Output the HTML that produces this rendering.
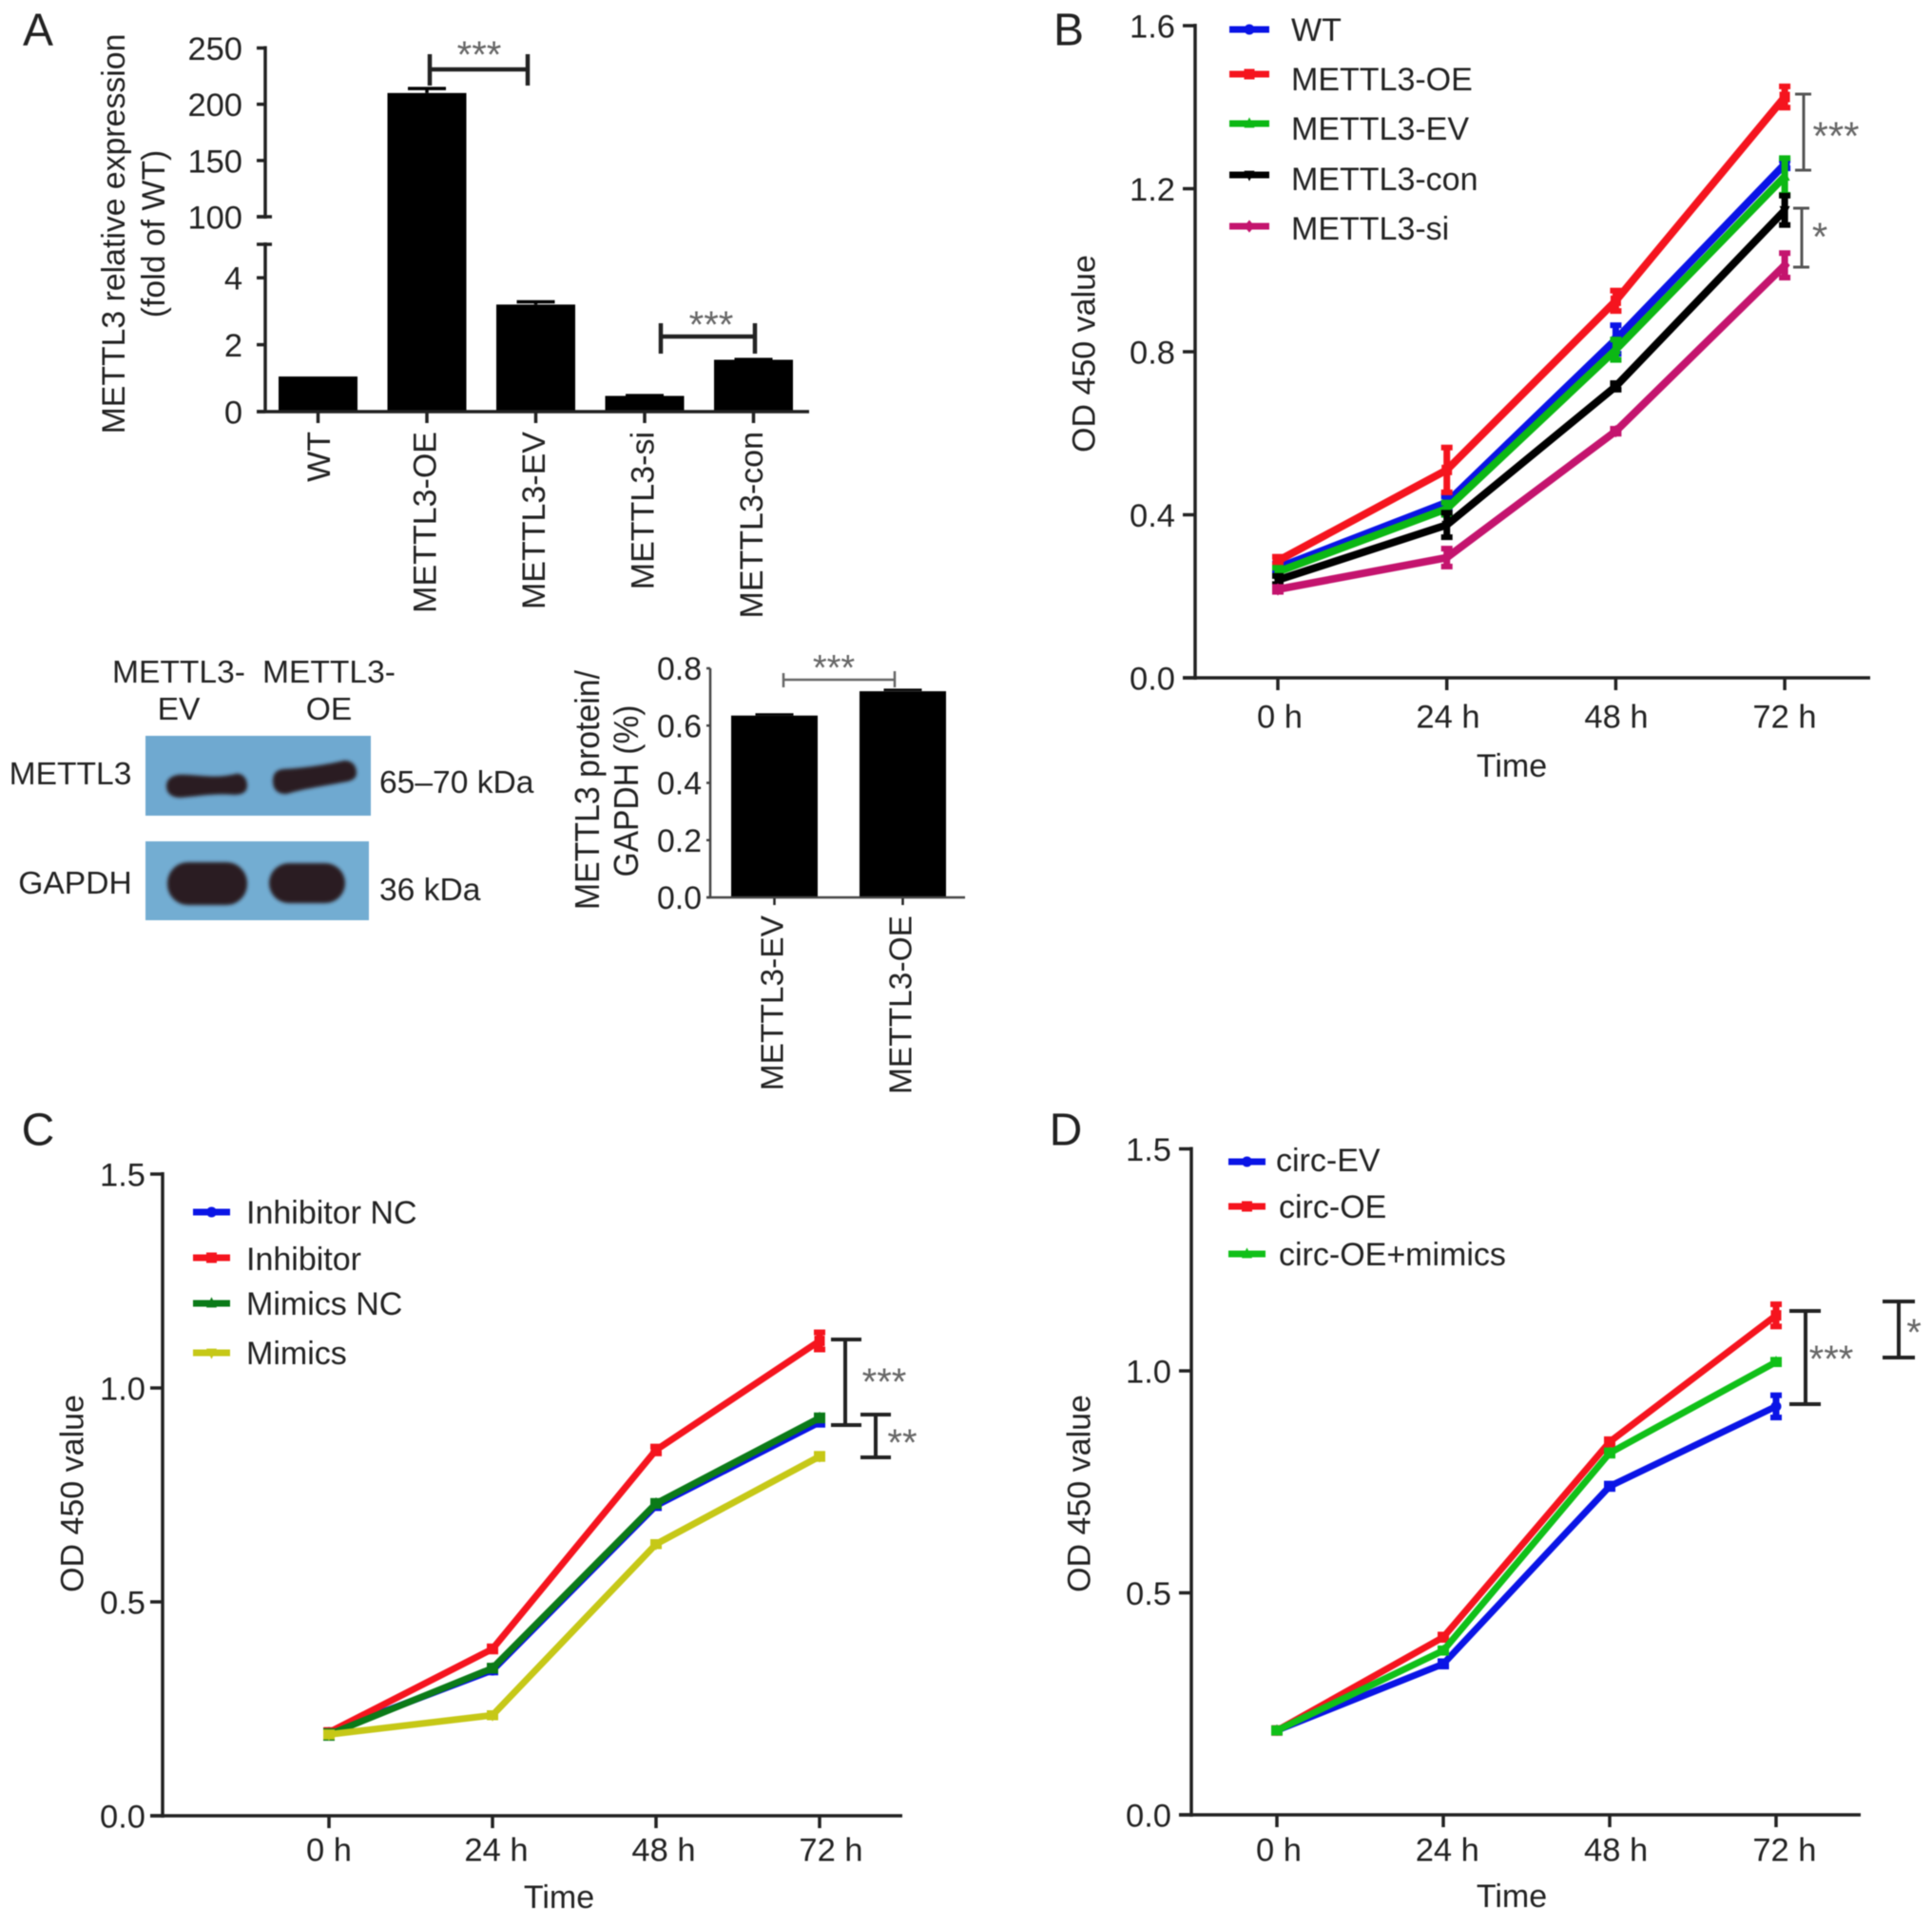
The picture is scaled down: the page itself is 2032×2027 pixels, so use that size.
<!DOCTYPE html>
<html lang="en">
<head>
<meta charset="utf-8">
<title>METTL3 expression and cell proliferation panels</title>
<style>
html,body{margin:0;padding:0;background:#fff;}
svg{display:block;filter:blur(0.6px);}
text{font-family:"Liberation Sans",Arial,sans-serif;fill:#222;}
</style>
</head>
<body>
<svg id="fig" xmlns="http://www.w3.org/2000/svg" width="2032" height="2027" viewBox="0 0 2032 2027">
<defs>
<filter id="soft" x="-20%" y="-30%" width="140%" height="160%"><feGaussianBlur stdDeviation="1.8"/></filter>
</defs>
<rect width="2032" height="2027" fill="#fff"/>
<g>
<rect x="153" y="774" width="237" height="84" fill="#6fa9d0"/>
<rect x="153" y="885" width="235" height="83" fill="#73add2"/>
<path d="M188 815 C205 814 225 820 248 814 C256 813 260 820 260 826 C260 834 254 836 246 836 C225 834 205 838 190 839 C180 839 175 834 175 827 C175 820 180 816 188 815 Z" fill="#2b1f22" filter="url(#soft)"/>
<path d="M298 809 C320 808 345 804 362 800 C371 800 375 806 375 813 C375 820 368 822 360 823 C340 827 318 830 302 835 C292 836 287 830 287 822 C287 814 290 810 298 809 Z" fill="#2b1f22" filter="url(#soft)"/>
<rect x="176" y="907" width="84" height="45" rx="22" fill="#2b1f22" filter="url(#soft)"/>
<rect x="283" y="908" width="80" height="42" rx="21" fill="#2b1f22" filter="url(#soft)"/>
</g>
<g id="layer"></g>
</svg>
<script>
/* Panel A: relative expression */
const aCategories = ['WT','METTL3-OE','METTL3-EV','METTL3-si','METTL3-con'];
const aValues = [1.05, 210, 3.2, 0.47, 1.55];
const aErrors = [0, 4, 0.08, 0.01, 0.01];
const aTicksLow = [0, 2, 4];
const aTicksHigh = [100, 150, 200, 250];

/* Panel A: protein ratio */
const pCategories = ['METTL3-EV','METTL3-OE'];
const pValues = [0.635, 0.72];
const pErrors = [0.004, 0.005];
const pTicks = [0, 0.2, 0.4, 0.6, 0.8];

/* Shared time axis */
const timeLabels = ['0 h','24 h','48 h','72 h'];

/* Panel B */
const bTicks = [0, 0.4, 0.8, 1.2, 1.6];
const bWT = [0.27, 0.43, 0.83, 1.26];
const bWTerr = [0.01, 0.015, 0.035, 0.01];
const bOE = [0.287, 0.51, 0.925, 1.425];
const bOEerr = [0.01, 0.055, 0.025, 0.026];
const bEV = [0.26, 0.415, 0.805, 1.23];
const bEVerr = [0.01, 0.015, 0.025, 0.045];
const bCon = [0.24, 0.375, 0.715, 1.147];
const bConErr = [0.01, 0.03, 0.008, 0.036];
const bSi = [0.217, 0.295, 0.605, 1.012];
const bSiErr = [0.006, 0.022, 0.006, 0.03];

/* Panel C */
const cTicks = [0, 0.5, 1, 1.5];
const cInhNC = [0.195, 0.34, 0.725, 0.92];
const cInhNCerr = [0.005, 0.005, 0.006, 0.006];
const cInh = [0.195, 0.39, 0.855, 1.11];
const cInhErr = [0.005, 0.006, 0.008, 0.02];
const cMimNC = [0.19, 0.345, 0.73, 0.93];
const cMimNCerr = [0.008, 0.006, 0.006, 0.006];
const cMim = [0.19, 0.235, 0.635, 0.84];
const cMimErr = [0.005, 0.005, 0.005, 0.006];

/* Panel D */
const dTicks = [0, 0.5, 1, 1.5];
const dEV = [0.19, 0.34, 0.74, 0.92];
const dEVerr = [0.005, 0.006, 0.006, 0.025];
const dOE = [0.19, 0.4, 0.84, 1.125];
const dOEerr = [0.005, 0.006, 0.006, 0.025];
const dMim = [0.19, 0.37, 0.815, 1.02];
const dMimErr = [0.005, 0.005, 0.006, 0.005];

const NS = 'http://www.w3.org/2000/svg';
const layer = document.getElementById('layer');
const INK = '#222';

function shape(tag, attrs, parent) {
  const el = document.createElementNS(NS, tag);
  for (const k in attrs) el.setAttribute(k, attrs[k]);
  (parent || layer).appendChild(el);
  return el;
}
function seg(x1, y1, x2, y2, width, color) {
  const el = shape('line', {x1, y1, x2, y2, stroke: color || INK, 'stroke-width': width});
  
  return el;
}
function label(str, x, y, size, anchor, fill) {
  const el = shape('text', {x, y: y + size * 0.36, 'font-size': size, 'text-anchor': anchor || 'middle'});
  if (fill) el.style.fill = fill;
  el.textContent = str;
  
  return el;
}
function vlabel(str, x, y, size, anchor, len) {
  const el = shape('text', {x: 0, y: size * 0.36, 'font-size': size, 'text-anchor': anchor || 'middle',
    transform: 'translate(' + x + ' ' + y + ') rotate(-90)'});
  if (len) { el.setAttribute('textLength', len); el.setAttribute('lengthAdjust', 'spacingAndGlyphs'); }
  el.textContent = str;
  
  return el;
}
function stars(str, cx, cy, size) {
  const el = shape('text', {x: cx, y: cy + size * 0.47, 'font-size': size, 'text-anchor': 'middle'});
  el.style.fill = '#666';
  el.textContent = str;
  
  
  return el;
}
function bracketV(x, y1, y2, capL, capR, width, color) {
  const s = seg(x, y1, x, y2, width, color);
  
  const a = seg(capL, y1, capR, y1, width, color);
  
  const b = seg(capL, y2, capR, y2, width, color);
  
}
function bracketH(x1, x2, y, t1, b1, t2, b2, width, color) {
  const s = seg(x1, y, x2, y, width, color);
  
  const a = seg(x1, t1, x1, b1, width, color);
  
  const b = seg(x2, t2, x2, b2, width, color);
  
}
function marker(kind, x, y, r, color) {
  let el;
  if (kind === 'circle') el = shape('circle', {cx: x, cy: y, r: r, fill: color});
  else if (kind === 'square') el = shape('rect', {x: x - r, y: y - r, width: 2 * r, height: 2 * r, fill: color});
  else if (kind === 'up') el = shape('polygon', {points: [x, y - r * 1.2, x + r, y + r * 0.8, x - r, y + r * 0.8].join(' '), fill: color});
  else if (kind === 'down') el = shape('polygon', {points: [x, y + r * 1.2, x + r, y - r * 0.8, x - r, y - r * 0.8].join(' '), fill: color});
  else el = shape('polygon', {points: [x, y - r * 1.2, x + r, y, x, y + r * 1.2, x - r, y].join(' '), fill: color});
  
  
  return el;
}

function lineChart(g, series) {
  const sy = v => g.y0 - v * g.pxPerUnit;
  const sx = i => g.x0 + i * g.dx;
  /* axes */
  const ya = seg(g.axisX, sy(g.ticks[g.ticks.length - 1]) - 2, g.axisX, g.y0 + 2, 3.5);
  
  const xa = seg(g.axisX - 13, g.y0, g.axisEnd, g.y0, 3.5);
  
  g.ticks.forEach(v => {
    const t = seg(g.axisX - 13, sy(v), g.axisX, sy(v), 3.5);
    
    const l = label(v.toFixed(1), g.axisX - g.tickGap, sy(v), 34.5, 'end');
    
  });
  timeLabels.forEach((s, i) => {
    const t = seg(sx(i), g.y0, sx(i), g.y0 + 13, 3.5);
    
    const l = label(s, g.labelX0 + i * g.labelDx, g.y0 + g.tickLabelDy, 34.5);
    
  });
  const tt = label('Time', g.timeX, g.y0 + g.timeDy, 34);
  
  const yt = vlabel('OD 450 value', g.yTitleX, g.yTitleY, 34);
  
  /* series */
  series.forEach(s => {
    const pl = shape('polyline', {points: s.values.map((v, i) => sx(i) + ',' + sy(v)).join(' '),
      fill: 'none', stroke: s.color, 'stroke-width': g.lineWidth, 'stroke-linejoin': 'round'});
    
    
    s.values.forEach((v, i) => {
      const e = s.errors[i];
      const b = seg(sx(i), sy(v + e), sx(i), sy(v - e), 7, s.color);
      
      const c1 = seg(sx(i) - 6, sy(v + e), sx(i) + 6, sy(v + e), 6, s.color);
      
      const c2 = seg(sx(i) - 6, sy(v - e), sx(i) + 6, sy(v - e), 6, s.color);
      
      marker(s.kind, sx(i), sy(v), 5.5, s.color);
    });
  });
  /* legend */
  series.forEach((s, i) => {
    const ly = g.legendLineY[i];
    const ln = seg(g.legendX1, ly, g.legendX2, ly, 7, s.color);
    
    marker(s.kind, (g.legendX1 + g.legendX2) / 2, ly, 5.5, s.color);
    const t = label(s.name, g.legendTextX[i], g.legendTextY[i], 34, 'start');
    
  });
}

/* ---------- Panel A main bar chart ---------- */
(function () {
  const y0 = 433, yBreakLow = 257, yHundred = 228, yTop = 50.5;
  const sy = v => v <= 5 ? y0 - v * (y0 - yBreakLow) / 5 : yHundred - (v - 100) * (yHundred - yTop) / 150;
  const sx = i => 334.5 + i * 114.5;
  aValues.forEach((v, i) => {
    const b = shape('rect', {x: sx(i) - 41.5, y: sy(v), width: 83, height: y0 - sy(v), fill: '#000'});
    
    
    if (aErrors[i] > 0) {
      const top = sy(v + aErrors[i]);
      const st = seg(sx(i), top, sx(i), sy(v), 3.5, '#000');
      
      const cp = seg(sx(i) - 20, top, sx(i) + 20, top, 3.5, '#000');
      
    }
    const t = seg(sx(i), y0, sx(i), y0 + 12, 3.5);
    
    const l = vlabel(aCategories[i], sx(i) - (i === 0 ? 0 : 3), 454, 34, 'end');
    
  });
  const hi = seg(279, yTop - 2, 279, yHundred + 2, 3.5);
  
  const lo = seg(279, yBreakLow - 2, 279, y0, 3.5);
  
  const xa = seg(270, y0, 851, y0, 3.5);
  
  const brk1 = seg(270, yHundred, 286, yHundred, 3.5);
  
  const brk2 = seg(270, yBreakLow, 286, yBreakLow, 3.5);
  
  aTicksHigh.concat(aTicksLow).forEach(v => {
    const t = seg(270, sy(v), 279, sy(v), 3.5);
    
    const l = label(String(v), 255, sy(v), 34.5, 'end');
    
  });
  bracketH(452, 555, 73, 57, 90, 57, 90, 4.5, INK);
  stars('***', 504, 52, 40);
  bracketH(695, 794, 354, 340, 372, 340, 372, 4.5, INK);
  stars('***', 748, 336, 40);
  const t1 = vlabel('METTL3 relative expression', 119, 246, 33.8);
  
  const t2 = vlabel('(fold of WT)', 161, 246, 33.8);
  
})();

/* ---------- Panel A protein bar chart ---------- */
(function () {
  const y0 = 944, top = 703;
  const sy = v => y0 - v * (y0 - top) / 0.8;
  const sx = i => 814.5 + i * 135;
  pValues.forEach((v, i) => {
    const b = shape('rect', {x: sx(i) - 45.5, y: sy(v), width: 91, height: y0 - sy(v), fill: '#000'});
    
    
    const cp = seg(sx(i) - 20, sy(v + pErrors[i]), sx(i) + 20, sy(v + pErrors[i]), 2.5, '#000');
    
    const t = seg(sx(i), y0, sx(i), y0 + 8, 2.5);
    
    const l = vlabel(pCategories[i], sx(i) - 3, 963, 33.5, 'end');
    
  });
  const ya = seg(747, top, 747, y0, 2.5, '#444');
  
  const xa = seg(743, y0, 1015, y0, 2.5, '#444');
  
  pTicks.forEach(v => {
    const t = seg(743, sy(v), 747, sy(v), 2.5, '#444');
    
    const l = label(v.toFixed(1), 738, sy(v), 33.8, 'end');
    
  });
  bracketH(824, 941, 715, 708, 723, 706, 723, 2.5, '#666');
  stars('***', 877, 697, 38);
  const t1 = vlabel('METTL3 protein/', 617, 831, 36, 'middle', 252);
  
  const t2 = vlabel('GAPDH (%)', 658, 832, 36, 'middle', 181);
  
})();

/* ---------- Panel B ---------- */
lineChart({
  y0: 713, pxPerUnit: 428.75, x0: 1344, dx: 177.7, axisX: 1257, axisEnd: 1967,
  ticks: bTicks, tickGap: 21, tickLabelDy: 40, timeDy: 92,
  labelX0: 1346, labelDx: 177, timeX: 1590, yTitleX: 1139, yTitleY: 372,
  lineWidth: 8, legendX1: 1293, legendX2: 1335,
  legendLineY: [31, 78, 130, 184, 238], legendTextX: [1358, 1358, 1358, 1358, 1358], legendTextY: [31, 83, 135, 188, 240]
}, [
  {name: 'WT', color: '#0a14e6', kind: 'circle', values: bWT, errors: bWTerr},
  {name: 'METTL3-OE', color: '#f5141e', kind: 'square', values: bOE, errors: bOEerr},
  {name: 'METTL3-EV', color: '#0cb814', kind: 'up', values: bEV, errors: bEVerr},
  {name: 'METTL3-con', color: '#000', kind: 'down', values: bCon, errors: bConErr},
  {name: 'METTL3-si', color: '#c4146e', kind: 'diamond', values: bSi, errors: bSiErr}
]);
bracketV(1897, 99, 179, 1888, 1905, 3, '#555');
stars('***', 1931, 138, 42);
bracketV(1895, 219, 281, 1886, 1903, 3, '#555');
stars('*', 1914, 244, 42);

/* ---------- Panel C ---------- */
lineChart({
  y0: 1910, pxPerUnit: 450, x0: 346, dx: 172, axisX: 171, axisEnd: 949,
  ticks: cTicks, tickGap: 18, tickLabelDy: 35, timeDy: 85,
  labelX0: 346, labelDx: 176, timeX: 588, yTitleX: 75, yTitleY: 1571,
  lineWidth: 7, legendX1: 203, legendX2: 242,
  legendLineY: [1275, 1323, 1371, 1423], legendTextX: [259, 259, 259, 259], legendTextY: [1275, 1324, 1371, 1423]
}, [
  {name: 'Inhibitor NC', color: '#0a14e6', kind: 'circle', values: cInhNC, errors: cInhNCerr},
  {name: 'Inhibitor', color: '#f5141e', kind: 'square', values: cInh, errors: cInhErr},
  {name: 'Mimics NC', color: '#0b7a18', kind: 'up', values: cMimNC, errors: cMimNCerr},
  {name: 'Mimics', color: '#c6c817', kind: 'down', values: cMim, errors: cMimErr}
]);
bracketV(889, 1409, 1499, 874, 906, 4, INK);
stars('***', 930, 1448, 40);
bracketV(921, 1488, 1533, 905, 937, 4, INK);
stars('**', 949, 1512, 40);

/* ---------- Panel D ---------- */
lineChart({
  y0: 1909, pxPerUnit: 467, x0: 1343, dx: 175, axisX: 1253, axisEnd: 1957,
  ticks: dTicks, tickGap: 21, tickLabelDy: 36, timeDy: 85,
  labelX0: 1345, labelDx: 177.3, timeX: 1590, yTitleX: 1134, yTitleY: 1571,
  lineWidth: 7, legendX1: 1292, legendX2: 1331,
  legendLineY: [1222, 1269, 1319], legendTextX: [1342, 1345, 1345], legendTextY: [1220, 1269, 1319]
}, [
  {name: 'circ-EV', color: '#0a14e6', kind: 'circle', values: dEV, errors: dEVerr},
  {name: 'circ-OE', color: '#f5141e', kind: 'square', values: dOE, errors: dOEerr},
  {name: 'circ-OE+mimics', color: '#10c018', kind: 'up', values: dMim, errors: dMimErr}
]);
bracketV(1899, 1379, 1477, 1882, 1915, 4, INK);
stars('***', 1926, 1424, 40);
bracketV(1997, 1369, 1428, 1980, 2014, 4, INK);
stars('*', 2013, 1396, 40);

/* ---------- Panel letters and blot labels ---------- */
const letterA = label('A', 40, 30, 48);

const letterB = label('B', 1124, 30, 48);

const letterC = label('C', 40, 1187, 48);

const letterD = label('D', 1121, 1187, 48);

const blotHead1 = label('METTL3-', 188, 706, 33.6);

const blotHead2 = label('EV', 188, 745, 33.6);

const blotHead3 = label('METTL3-', 346, 706, 33.6);

const blotHead4 = label('OE', 346, 745, 33.6);

const blotRow1 = label('METTL3', 74, 813, 33.6);

const blotRow2 = label('GAPDH', 79, 928, 33.6);

const blotSize1 = label('65–70 kDa', 399, 822, 33.6, 'start');

const blotSize2 = label('36 kDa', 399, 935, 33.6, 'start');

</script>
</body>
</html>
